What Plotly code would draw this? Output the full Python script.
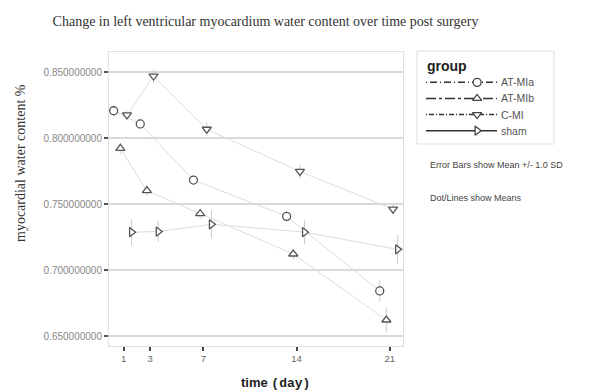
import plotly.graph_objects as go

days = [1, 3, 7, 14, 21]
groups = ["AT-MIa", "AT-MIb", "C-MI", "sham"]
means = {
    "AT-MIa": [0.821, 0.811, 0.7685, 0.741, 0.6845],
    "AT-MIb": [0.7925, 0.7605, 0.743, 0.7125, 0.6625],
    "C-MI": [0.8178, 0.8473, 0.807, 0.775, 0.7465],
    "sham": [0.729, 0.7295, 0.735, 0.729, 0.716],
}
sds = {
    "AT-MIa": [0.003, 0.004, 0.004, 0.004, 0.008],
    "AT-MIb": [0.004, 0.004, 0.004, 0.004, 0.0095],
    "C-MI": [0.003, 0.005, 0.005, 0.005, 0.004],
    "sham": [0.010, 0.008, 0.0105, 0.009, 0.011],
}
dodge = {"AT-MIa": -0.75, "AT-MIb": -0.25, "C-MI": 0.25, "sham": 0.6}
symbols = {"AT-MIa": "circle", "AT-MIb": "triangle-up",
           "C-MI": "triangle-down", "sham": "triangle-right"}
dashes = {"AT-MIa": "1px,3px,7px,3px", "AT-MIb": "10px,3px,3px,3px",
          "C-MI": "1px,2px,5px,2px", "sham": "solid"}
yticks = [0.65, 0.70, 0.75, 0.80, 0.85]

W, H = 590, 390
L, R, T, B = 109, 36, 52, 44
PW, PH = W - L - R, H - T - B


def px(x):
    return (x - L) / PW


def py(y):
    return (H - B - y) / PH


fig = go.Figure()
for g in groups:
    xs = [d + dodge[g] for d in days]
    fig.add_trace(go.Scatter(
        x=xs, y=means[g], mode="lines+markers", showlegend=False,
        line=dict(color="#dcdcdc", width=1),
        marker=dict(symbol=symbols[g], size=8, color="white",
                    line=dict(width=1.3, color="#555555")),
        error_y=dict(type="data", array=sds[g], color="#cccccc", thickness=1, width=0),
    ))

# manual legend samples on a hidden helper axis pair
annotations = []
for i, g in enumerate(groups):
    fig.add_trace(go.Scatter(
        x=[0, 1], y=[i, i], mode="lines", xaxis="x2", yaxis="y2", showlegend=False,
        line=dict(color="#333333", width=1.5, dash=dashes[g]), hoverinfo="skip"))
    fig.add_trace(go.Scatter(
        x=[0.72], y=[i], mode="markers", xaxis="x2", yaxis="y2", showlegend=False,
        marker=dict(symbol=symbols[g], size=8, color="white",
                    line=dict(width=1.3, color="#444444")), hoverinfo="skip"))
    annotations.append(dict(text=g, x=1.03, y=i, xref="x2", yref="y2",
                            xanchor="left", yanchor="middle", showarrow=False,
                            font=dict(family="Liberation Sans", size=10.5, color="#555555")))

annotations += [
    dict(text="<b>group</b>", x=px(425), y=py(66), xref="paper", yref="paper",
         xanchor="left", yanchor="middle", showarrow=False,
         font=dict(family="Liberation Sans", size=14, color="#222222")),
    dict(text="myocardial water content %", x=px(20), y=py(163), xref="paper", yref="paper",
         xanchor="center", yanchor="middle", showarrow=False, textangle=-90,
         font=dict(family="Liberation Serif", size=14, color="#333333")),
    dict(text="<b>time <span style='font-family:Liberation Mono'>(day)</span></b>",
         x=px(275), y=py(383), xref="paper", yref="paper",
         xanchor="center", yanchor="middle", showarrow=False,
         font=dict(family="Liberation Sans", size=13, color="#222222")),
    dict(text="Error Bars show Mean +/- 1.0 SD", x=px(428), y=py(165), xref="paper", yref="paper",
         xanchor="left", yanchor="middle", showarrow=False,
         font=dict(family="Liberation Sans", size=9, color="#444444")),
    dict(text="Dot/Lines show Means", x=px(428), y=py(198), xref="paper", yref="paper",
         xanchor="left", yanchor="middle", showarrow=False,
         font=dict(family="Liberation Sans", size=9, color="#444444")),
]

fig.update_layout(
    width=W, height=H,
    margin=dict(l=L, r=R, t=T, b=B),
    paper_bgcolor="white", plot_bgcolor="white",
    showlegend=False,
    title=dict(text="Change in left ventricular myocardium water content over time post surgery",
               font=dict(family="Liberation Serif", size=14, color="#333333"),
               x=0.45, xanchor="center", y=1 - 21 / H, yanchor="middle"),
    xaxis=dict(domain=[0, px(403)], range=[-0.1, 22], tickvals=days,
               ticktext=[str(d) for d in days],
               showgrid=False, zeroline=False, showline=True, mirror=True,
               linecolor="#e0e0e0", linewidth=1,
               ticks="outside", ticklen=4, tickwidth=2, tickcolor="#444444",
               tickfont=dict(family="Liberation Sans", size=9.5, color="#666666")),
    yaxis=dict(range=[0.6428, 0.8655], tickvals=yticks, tickformat=".9f",
               showgrid=True, gridcolor="#d9d9d9", gridwidth=1.5, zeroline=False,
               showline=True, mirror=True, linecolor="#e0e0e0", linewidth=1,
               ticks="outside", ticklen=4, tickwidth=2, tickcolor="#555555",
               tickfont=dict(family="Liberation Sans", size=10, color="#888888")),
    xaxis2=dict(domain=[px(426), px(426 + 71 * 1.6)], range=[0, 1.6], visible=False, anchor="y2"),
    yaxis2=dict(domain=[py(138.7), py(74.3)], range=[3.5, -0.5], visible=False, anchor="x2"),
    shapes=[dict(type="rect", xref="paper", yref="paper",
                 x0=px(417), x1=px(554), y0=py(144), y1=py(51),
                 line=dict(color="#dddddd", width=1), fillcolor="rgba(0,0,0,0)", layer="below")],
    annotations=annotations,
)

fig.write_html("out.html")
